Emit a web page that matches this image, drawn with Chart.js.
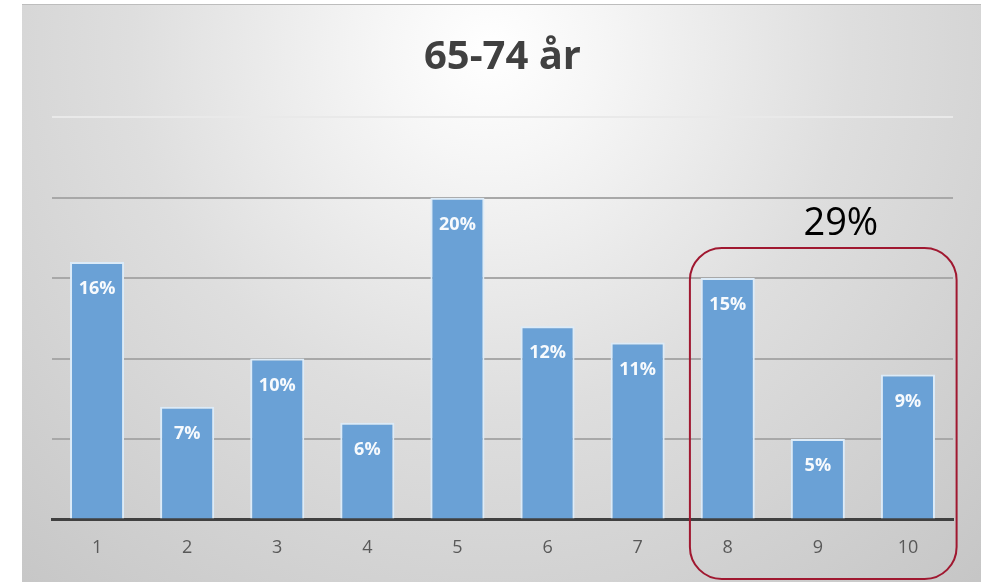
<!DOCTYPE html>
<html>
<head>
<meta charset="utf-8">
<script src="https://cdn.jsdelivr.net/npm/chart.js@4"></script>
<style>
  html, body { margin: 0; padding: 0; background: #ffffff; }
  #wrap { width: 981px; height: 582px; position: relative; }
</style>
</head>
<body>
<div id="wrap"><canvas id="c" width="981" height="582"></canvas></div>
<script>
const titleText = "65-74 år";
const categories = ["1", "2", "3", "4", "5", "6", "7", "8", "9", "10"];
const values = [16, 7, 10, 6, 20, 12, 11, 15, 5, 9];
const yTicks = [0, 5, 10, 15, 20, 25];
const highlighted = [7, 8, 9];

const bgPlugin = {
  id: 'bg',
  beforeDraw(chart) {
    const ctx = chart.ctx;
    ctx.save();
    ctx.fillStyle = '#ffffff';
    ctx.fillRect(0, 0, chart.width, chart.height);
    const g = ctx.createRadialGradient(490, 50, 0, 490, 50, 720);
    g.addColorStop(0, '#ffffff');
    g.addColorStop(0.15, '#f6f6f6');
    g.addColorStop(0.5, '#dedede');
    g.addColorStop(1, '#c6c6c6');
    ctx.fillStyle = g;
    ctx.fillRect(22, 4, chart.width - 22, chart.height - 4);
    ctx.fillStyle = '#bdbdbd';
    ctx.fillRect(22, 4, chart.width - 22, 1);
    ctx.restore();
  }
};

const labelPlugin = {
  id: 'barLabels',
  afterDatasetsDraw(chart) {
    const ctx = chart.ctx;
    const meta = chart.getDatasetMeta(0);
    ctx.save();
    ctx.fillStyle = '#f7fafd';
    ctx.font = 'bold 18px "Open Sans"';
    ctx.textAlign = 'center';
    ctx.textBaseline = 'middle';
    meta.data.forEach((bar, i) => {
      ctx.fillText(values[i] + '%', bar.x, bar.y + 27);
    });
    ctx.restore();
  }
};

const groupPlugin = {
  id: 'group',
  afterDraw(chart) {
    const ctx = chart.ctx;
    const xs = chart.scales.x, ys = chart.scales.y;
    const catW = (chart.chartArea.right - chart.chartArea.left) / categories.length;
    const first = highlighted[0], last = highlighted[highlighted.length - 1];
    const left = xs.getPixelForValue(first) - 0.42 * catW;
    const right = xs.getPixelForValue(last) + 0.54 * catW;
    const maxV = Math.max(...highlighted.map(i => values[i]));
    const top = ys.getPixelForValue(maxV) - 30;
    const bottom = chart.height - 3;
    const r = 32;
    ctx.save();
    ctx.strokeStyle = '#a01830';
    ctx.lineWidth = 2;
    ctx.beginPath();
    ctx.roundRect(left, top, right - left, bottom - top, r);
    ctx.stroke();
    const sum = highlighted.reduce((s, i) => s + values[i], 0);
    ctx.fillStyle = '#000000';
    ctx.font = '38px "Open Sans"';
    ctx.textAlign = 'center';
    ctx.textBaseline = 'middle';
    ctx.fillText(sum + '%', xs.getPixelForValue(highlighted[1]) + 23, top - 24);
    ctx.restore();
  }
};

new Chart(document.getElementById('c'), {
  type: 'bar',
  data: {
    labels: categories,
    datasets: [{
      data: values,
      backgroundColor: '#6aa1d6',
      borderColor: '#dcebf8',
      borderWidth: 2,
      borderSkipped: 'bottom',
      barPercentage: 0.6,
      categoryPercentage: 1.0
    }]
  },
  options: {
    responsive: false,
    animation: false,
    events: [],
    layout: { padding: { left: 52, right: 28, top: 0, bottom: 5 } },
    plugins: {
      legend: { display: false },
      tooltip: { enabled: false },
      title: {
        display: true,
        text: titleText,
        color: '#404040',
        font: { family: 'Open Sans', size: 40, weight: 'bold', lineHeight: 1.08 },
        padding: { top: 36, bottom: 38 }
      }
    },
    scales: {
      x: {
        grid: { display: false, drawTicks: false },
        border: { display: true, color: '#404040', width: 3 },
        ticks: { color: '#595959', font: { family: 'Open Sans', size: 18 }, padding: 18 }
      },
      y: {
        min: 0,
        max: 25,
        afterBuildTicks(scale) { scale.ticks = yTicks.map(v => ({ value: v })); },
        ticks: { display: false },
        border: { display: false },
        grid: {
          drawTicks: false,
          lineWidth: 2,
          color: (c) => c.tick && c.tick.value === 25 ? '#e9e9e9' : '#a8a8a8'
        }
      }
    }
  },
  plugins: [bgPlugin, labelPlugin, groupPlugin]
});
</script>
</body>
</html>
